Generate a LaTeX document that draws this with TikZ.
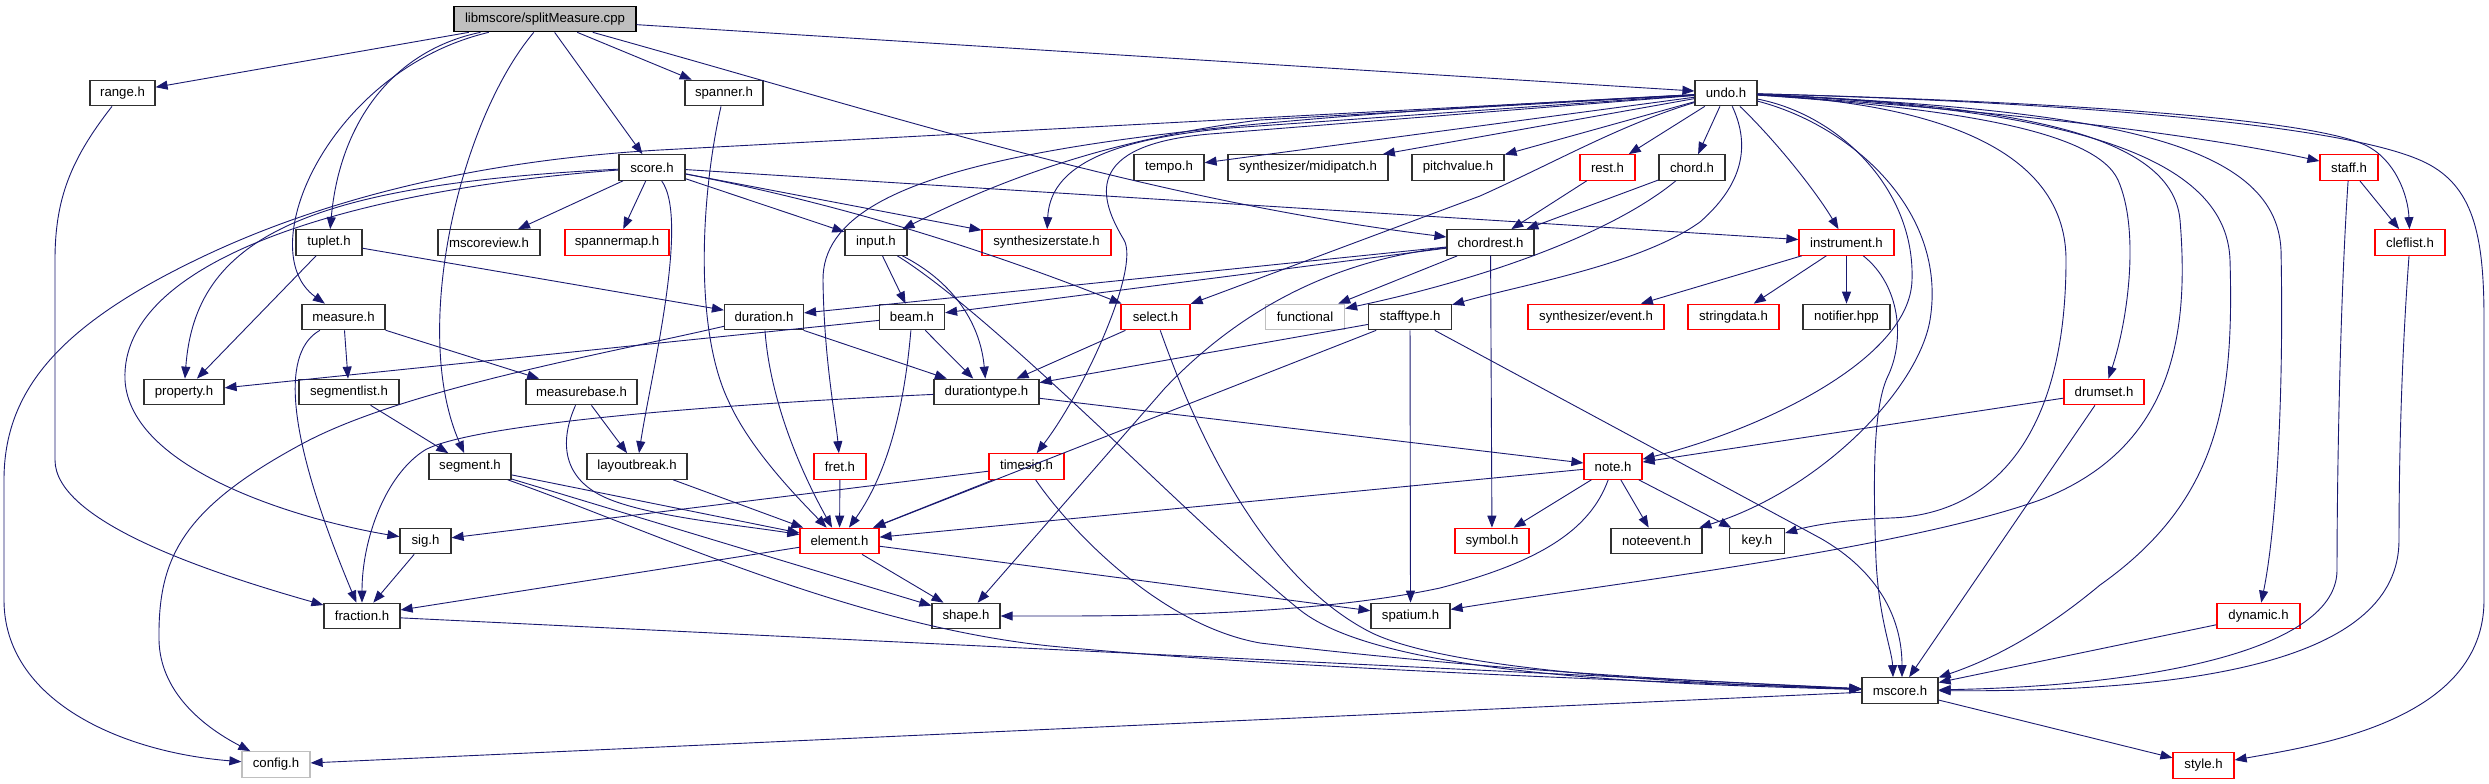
\documentclass[tikz,border=0pt]{standalone}
\usepackage{fontspec}
\setmainfont{Liberation Sans}
\usetikzlibrary{arrows.meta}
\definecolor{mblue}{HTML}{191970}
\definecolor{nred}{HTML}{FF0000}
\definecolor{ngray}{HTML}{BFBFBF}
\definecolor{nblack}{HTML}{303030}
\tikzset{
  nb/.style={draw=nblack, line width=1.2bp, minimum height=25.5bp, inner xsep=1bp, inner ysep=0bp,
    font=\fontsize{13.2bp}{15bp}\selectfont, text=black},
  nr/.style={nb, draw=nred},
  ng/.style={nb, draw=ngray},
  edg/.style={draw=mblue, line width=0.9bp, -{Triangle[length=12bp,width=9bp]}},
}
\begin{document}
\begin{tikzpicture}[x=1bp,y=-1bp]
\fill[white] (0,0) rectangle (2489,784);
\useasboundingbox (0,0) rectangle (2489,784);
% nodes
\node[nb, fill=ngray, draw=black, minimum width=182bp] (split) at (545,19) {libmscore/splitMeasure.cpp};
\node[nb, minimum width=65bp] (range) at (122.5,93) {range.h};
\node[nb, minimum width=78bp] (spanner) at (724,93) {spanner.h};
\node[nb, minimum width=62bp] (undo) at (1726,93) {undo.h};
\node[nb, minimum width=66bp] (score) at (652,167.5) {score.h};
\node[nb, minimum width=70bp] (tempo) at (1169,167.5) {tempo.h};
\node[nb, minimum width=160bp] (midipatch) at (1308,167.5) {synthesizer/midipatch.h};
\node[nb, minimum width=92bp] (pitchvalue) at (1458,167.5) {pitchvalue.h};
\node[nr, minimum width=55bp] (rest) at (1607.5,167.5) {rest.h};
\node[nb, minimum width=66bp] (chord) at (1692,167.5) {chord.h};
\node[nr, minimum width=58bp] (staff) at (2349,167.5) {staff.h};
\node[nb, minimum width=66bp] (tuplet) at (329,242.5) {tuplet.h};
\node[nb, minimum width=102bp] (mscoreview) at (489,242.5) {mscoreview.h};
\node[nr, minimum width=104bp] (spannermap) at (617,242.5) {spannermap.h};
\node[nb, minimum width=62bp] (input) at (876,242.5) {input.h};
\node[nr, minimum width=129bp] (synthstate) at (1046.5,242.5) {synthesizerstate.h};
\node[nb, minimum width=87bp] (chordrest) at (1490.5,242.5) {chordrest.h};
\node[nr, minimum width=95bp] (instrument) at (1846.5,242.5) {instrument.h};
\node[nr, minimum width=70bp] (cleflist) at (2410,242.5) {cleflist.h};
\node[nb, minimum width=83bp] (measure) at (343.5,317) {measure.h};
\node[nb, minimum width=79bp] (duration) at (764,317) {duration.h};
\node[nb, minimum width=65bp] (beam) at (912,317) {beam.h};
\node[nr, minimum width=69bp] (select) at (1155.5,317) {select.h};
\node[ng, minimum width=79bp] (functional) at (1305,317) {functional};
\node[nb, minimum width=83bp] (stafftype) at (1410,317) {stafftype.h};
\node[nr, minimum width=136bp] (synthevent) at (1596,317) {synthesizer/event.h};
\node[nr, minimum width=91bp] (stringdata) at (1733.5,317) {stringdata.h};
\node[nb, minimum width=87bp] (notifier) at (1846.5,317) {notifier.hpp};
\node[nb, minimum width=80bp] (property) at (184,392) {property.h};
\node[nb, minimum width=100bp] (segmentlist) at (349,392) {segmentlist.h};
\node[nb, minimum width=111bp] (measurebase) at (581.5,392) {measurebase.h};
\node[nb, minimum width=105bp] (durationtype) at (986.5,392) {durationtype.h};
\node[nr, minimum width=80bp] (drumset) at (2104,392) {drumset.h};
\node[nb, minimum width=82bp] (segment) at (470,466.5) {segment.h};
\node[nb, minimum width=100bp] (layoutbreak) at (637,466.5) {layoutbreak.h};
\node[nr, minimum width=52bp] (fret) at (840,466.5) {fret.h};
\node[nr, minimum width=75bp] (timesig) at (1026.5,466.5) {timesig.h};
\node[nr, minimum width=58bp] (note) at (1613,466.5) {note.h};
\node[nb, minimum width=51bp] (sig) at (425.5,541) {sig.h};
\node[nr, minimum width=79bp] (element) at (839.5,541) {element.h};
\node[nr, minimum width=74bp] (symbol) at (1492,541) {symbol.h};
\node[nb, minimum width=91bp] (noteevent) at (1656.5,541) {noteevent.h};
\node[nb, minimum width=55bp] (key) at (1757,541) {key.h};
\node[nb, minimum width=76bp] (fraction) at (362,616) {fraction.h};
\node[nb, minimum width=68bp] (shape) at (966,616) {shape.h};
\node[nb, minimum width=79bp] (spatium) at (1410.5,616) {spatium.h};
\node[nr, minimum width=83bp] (dynamic) at (2258.5,616) {dynamic.h};
\node[nb, minimum width=76bp] (mscore) at (1900,690.5) {mscore.h};
\node[ng, minimum width=68bp] (config) at (276,764.5) {config.h};
\node[nr, minimum width=61bp] (style) at (2203.5,765.5) {style.h};
% edges from splitMeasure.cpp
\draw[edg] (split) -- (range);
\draw[edg] (split) .. controls (330,70) and (250,250) .. (measure);
\draw[edg] (split) .. controls (395,50) and (340,120) .. (tuplet);
\draw[edg] (split) .. controls (460,120) and (410,330) .. (segment);
\draw[edg] (split) -- (score);
\draw[edg] (split) -- (spanner);
\draw[edg] (split) .. controls (900,118) and (1150,200) .. (chordrest);
\draw[edg] (split) -- (undo);
% score.h
\draw[edg] (score) -- (mscoreview);
\draw[edg] (score) -- (spannermap);
\draw[edg] (score) -- (input);
\draw[edg] (score) -- (synthstate);
\draw[edg] (score) .. controls (820,200) and (960,240) .. (select);
\draw[edg] (score) -- (instrument);
\draw[edg] (score) .. controls (690,220) and (650,380) .. (layoutbreak);
\draw[edg] (score) .. controls (300,185) and (195,240) .. (property);
\draw[edg] (score) .. controls (350,190) and (120,260) .. (125,380) .. controls (130,470) and (300,520) .. (sig);
% undo.h
\draw[edg] (undo) -- (660,150) .. controls (450,162) and (300,210) .. (200,258) .. controls (60,325) and (4,390) .. (4,480) -- (4,600) .. controls (4,700) and (120,752) .. (config);
\draw[edg] (undo) .. controls (1100,125) and (822,160) .. (823,280) .. controls (824,360) and (836,420) .. (fret);
\draw[edg] (undo) -- (1260,120) .. controls (1100,140) and (990,185) .. (input);
\draw[edg] (undo) -- (1230,128) .. controls (1100,140) and (1050,170) .. (synthstate);
\draw[edg] (undo) -- (1210,134) .. controls (1080,145) and (1100,200) .. (1124,240) .. controls (1140,268) and (1085,390) .. (timesig);
\draw[edg] (undo) -- (tempo);
\draw[edg] (undo) -- (midipatch);
\draw[edg] (undo) -- (pitchvalue);
\draw[edg] (undo) -- (rest);
\draw[edg] (undo) -- (chord);
\draw[edg] (undo) .. controls (1620,125) and (1560,160) .. (1480,196) -- (select);
\draw[edg] (undo) .. controls (1748,140) and (1748,180) .. (1700,222) .. controls (1640,265) and (1520,285) .. (stafftype);
\draw[edg] (undo) .. controls (1775,140) and (1815,190) .. (instrument);
\draw[edg] (undo) .. controls (1840,115) and (1915,190) .. (1912,280) .. controls (1910,360) and (1760,430) .. (note);
\draw[edg] (undo) .. controls (1850,125) and (1948,210) .. (1930,320) .. controls (1918,390) and (1820,490) .. (noteevent);
\draw[edg] (undo) .. controls (1960,105) and (2066,160) .. (2066,260) .. controls (2066,440) and (1990,515) .. (1890,518) .. controls (1840,520) and (1810,526) .. (key);
\draw[edg] (undo) .. controls (1950,108) and (2095,130) .. (2118,180) .. controls (2140,230) and (2128,320) .. (drumset);
\draw[edg] (undo) .. controls (2000,105) and (2172,130) .. (2180,220) .. controls (2190,340) and (2170,450) .. (2040,500) .. controls (1900,550) and (1600,585) .. (spatium);
\draw[edg] (undo) .. controls (2050,108) and (2226,150) .. (2230,260) .. controls (2234,400) and (2220,500) .. (2100,585) .. controls (2040,635) and (1990,660) .. (mscore);
\draw[edg] (undo) .. controls (2100,110) and (2276,140) .. (2281,250) .. controls (2284,400) and (2276,530) .. (dynamic);
\draw[edg] (undo) .. controls (2000,110) and (2200,135) .. (staff);
\draw[edg] (undo) .. controls (2000,100) and (2300,115) .. (2365,145) .. controls (2395,159) and (2408,195) .. (cleflist);
\draw[edg] (undo) .. controls (2000,100) and (2350,120) .. (2430,165) .. controls (2475,190) and (2484,240) .. (2484,320) -- (2484,600) .. controls (2484,720) and (2320,745) .. (style);
% tuplet, measure
\draw[edg] (tuplet) -- (property);
\draw[edg] (tuplet) -- (duration);
\draw[edg] (measure) -- (segmentlist);
\draw[edg] (measure) -- (measurebase);
\draw[edg] (measure) .. controls (285,350) and (280,420) .. (fraction);
\draw[edg] (segmentlist) -- (segment);
\draw[edg] (measurebase) -- (layoutbreak);
\draw[edg] (measurebase) .. controls (560,440) and (562,475) .. (600,495) .. controls (640,516) and (740,525) .. (element);
% segment
\draw[edg] (segment) -- (element);
\draw[edg] (segment) -- (shape);
\draw[edg] (segment) .. controls (650,530) and (850,625) .. (1050,646) .. controls (1300,670) and (1700,683) .. (mscore);
\draw[edg] (fraction) -- (mscore);
% timesig, fret, layoutbreak, spanner, duration, beam
\draw[edg] (timesig) .. controls (1070,530) and (1160,625) .. (1260,643) .. controls (1500,672) and (1750,684) .. (mscore);
\draw[edg] (timesig) -- (sig);
\draw[edg] (timesig) -- (element);
\draw[edg] (fret) -- (element);
\draw[edg] (layoutbreak) -- (element);
\draw[edg] (spanner) .. controls (700,200) and (695,330) .. (728,400) .. controls (750,450) and (800,500) .. (element);
\draw[edg] (duration) .. controls (770,400) and (800,470) .. (element);
\draw[edg] (beam) .. controls (905,400) and (890,470) .. (element);
\draw[edg] (beam) -- (property);
\draw[edg] (beam) -- (durationtype);
\draw[edg] (duration) -- (durationtype);
\draw[edg] (duration) .. controls (600,355) and (400,390) .. (300,445) .. controls (180,510) and (158,560) .. (159,640) .. controls (160,690) and (200,725) .. (config);
% input, select
\draw[edg] (input) -- (beam);
\draw[edg] (input) .. controls (950,280) and (980,320) .. (durationtype);
\draw[edg] (input) .. controls (1000,320) and (1200,530) .. (1300,610) .. controls (1380,674) and (1650,684) .. (mscore);
\draw[edg] (select) .. controls (1185,400) and (1250,570) .. (1370,632) .. controls (1450,672) and (1700,684) .. (mscore);
\draw[edg] (select) -- (durationtype);
% stafftype
\draw[edg] (stafftype) -- (durationtype);
\draw[edg] (stafftype) -- (element);
\draw[edg] (stafftype) -- (spatium);
\draw[edg] (stafftype) -- (1820,538) .. controls (1880,572) and (1902,620) .. ([xshift=2bp]mscore.north);
% note
\draw[edg] (note) -- (element);
\draw[edg] (note) -- (symbol);
\draw[edg] (note) .. controls (1590,530) and (1540,562) .. (1440,588) .. controls (1300,618) and (1100,616) .. (shape);
\draw[edg] (note) -- (noteevent);
\draw[edg] (note) -- (key);
% chordrest, chord, rest
\draw[edg] (chordrest) -- (duration);
\draw[edg] (chordrest) -- (beam);
\draw[edg] (chordrest) .. controls (1320,262) and (1230,320) .. (1165,388) -- (shape);
\draw[edg] (chordrest) -- (functional);
\draw[edg] (chordrest) -- (symbol);
\draw[edg] (chord) -- (chordrest);
\draw[edg] (chord) .. controls (1610,235) and (1480,280) .. (functional);
\draw[edg] (rest) -- (chordrest);
% staff, cleflist, drumset, dynamic
\draw[edg] (staff) -- (cleflist);
\draw[edg] (staff) .. controls (2340,300) and (2337,480) .. (2337,570) .. controls (2337,650) and (2150,686) .. (mscore);
\draw[edg] (cleflist) .. controls (2402,350) and (2399,450) .. (2399,540) .. controls (2399,660) and (2200,692) .. (mscore);
\draw[edg] (drumset) -- (note);
\draw[edg] (drumset) -- (mscore);
\draw[edg] (dynamic) -- (mscore);
\draw[edg] (mscore) -- (style);
\draw[edg] (mscore) -- (config);
% instrument
\draw[edg] (instrument) -- (synthevent);
\draw[edg] (instrument) -- (stringdata);
\draw[edg] (instrument) -- (notifier);
\draw[edg] (instrument) .. controls (1900,285) and (1906,340) .. (1887,378) .. controls (1873,410) and (1873,480) .. (1876,560) .. controls (1879,620) and (1892,650) .. ([xshift=-7bp]mscore.north);
% range, sig, element, durationtype
\draw[edg] (range) .. controls (70,160) and (55,200) .. (55,260) -- (55,460) .. controls (55,520) and (200,570) .. (fraction);
\draw[edg] (sig) -- (fraction);
\draw[edg] (element) -- (fraction);
\draw[edg] (element) -- (shape);
\draw[edg] (element) -- (spatium);
\draw[edg] (durationtype) -- (note);
\draw[edg] (durationtype) .. controls (700,405) and (470,425) .. (425,450) .. controls (385,475) and (362,540) .. (fraction);
\end{tikzpicture}
\end{document}
